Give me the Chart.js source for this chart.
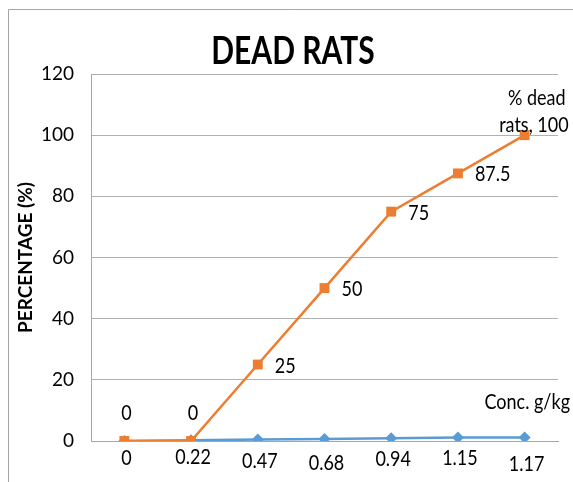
<!DOCTYPE html>
<html><head><meta charset="utf-8">
<script src="https://cdn.jsdelivr.net/npm/chart.js@4"></script>
<style>html,body{margin:0;padding:0;background:#fff}#w{width:573px;height:482px}</style>
</head><body><div id="w"><canvas id="c" width="573" height="482"></canvas></div>
<script>
const categories = ["0","0.22","0.47","0.68","0.94","1.15","1.17"];
const deadRats = [0, 0, 25, 50, 75, 87.5, 100];
const conc = [0, 0.22, 0.47, 0.68, 0.94, 1.15, 1.17];
const yTicks = [0, 20, 40, 60, 80, 100, 120];
const FONT = "Lato, 'DejaVu Sans Condensed', sans-serif";

function stretchText(ctx, txt, x, y, sy) {
  ctx.save(); ctx.translate(x, y); ctx.scale(1, sy); ctx.fillText(txt, 0, 0); ctx.restore();
}

const labelsPlugin = {
  id: 'labelsPlugin',
  afterDraw(chart) {
    const ctx = chart.ctx;
    const x = chart.scales.x, y = chart.scales.y;
    ctx.save();
    ctx.strokeStyle = '#a6a6a6'; ctx.lineWidth = 1;
    ctx.beginPath(); ctx.moveTo(8.5, 482); ctx.lineTo(8.5, 9.5); ctx.lineTo(573, 9.5); ctx.stroke();
    ctx.fillStyle = '#000';
    ctx.font = "bold 30px " + FONT;
    ctx.textAlign = 'center'; ctx.textBaseline = 'alphabetic';
    stretchText(ctx, 'DEAD RATS', 293, 64, 1.25);
    ctx.font = "18px " + FONT;
    deadRats.forEach((v, i) => {
      const px = x.getPixelForValue(i), py = y.getPixelForValue(v);
      if (i < 2) { ctx.textAlign = 'center'; stretchText(ctx, String(v), px + 2, py - 21, 1.15); }
      else if (i < 6) { ctx.textAlign = 'left'; stretchText(ctx, String(v), px + 17, py + 8, 1.15); }
      else {
        ctx.textAlign = 'right';
        stretchText(ctx, '% dead', px + 41, py - 30, 1.15);
        stretchText(ctx, 'rats, 100', px + 44, py - 3, 1.15);
      }
    });
    const offs = [24, 24, 28, 31, 28, 28, 34];
    conc.forEach((v, i) => {
      const px = x.getPixelForValue(i), py = y.getPixelForValue(v);
      ctx.textAlign = 'center';
      stretchText(ctx, String(v), px + 2, py + offs[i], 1.15);
    });
    const ly = y.getPixelForValue(conc[6]);
    ctx.textAlign = 'right';
    stretchText(ctx, 'Conc. g/kg', 570, ly - 28, 1.15);
    ctx.restore();
  }
};

new Chart(document.getElementById('c'), {
  type: 'line',
  data: {
    labels: categories,
    datasets: [
      { label: 'Conc. g/kg', data: conc, borderColor: '#5B9BD5', backgroundColor: '#5B9BD5',
        borderWidth: 2.5, pointStyle: 'rectRot', pointRadius: 6, pointBorderWidth: 0, order: 2 },
      { label: '% dead rats', data: deadRats, borderColor: '#ED7D31', backgroundColor: '#ED7D31',
        borderWidth: 2.5, pointStyle: 'rect', pointRadius: 7, pointBorderWidth: 0, order: 1 }
    ]
  },
  options: {
    responsive: false, animation: false,
    layout: { padding: { left: 10, right: 15, top: 74, bottom: 41 } },
    plugins: { legend: { display: false }, tooltip: { enabled: false } },
    scales: {
      x: { offset: true, grid: { display: false, drawTicks: false }, border: { color: '#a6a6a6' },
           ticks: { display: false }, afterFit(s) { s.height = 0; } },
      y: { min: 0, max: 120, afterBuildTicks(s) { s.ticks = yTicks.map(v => ({ value: v })); },
           grid: { color: '#b0b0b0', drawTicks: false }, border: { color: '#a6a6a6' },
           ticks: { color: '#000', padding: 17, font: { family: FONT, size: 19 } },
           title: { display: true, text: 'PERCENTAGE (%)', color: '#000', font: { family: FONT, size: 19, weight: 'bold' } },
           afterFit(s) { s.width = 81; } }
    }
  },
  plugins: [labelsPlugin]
});
</script></body></html>
